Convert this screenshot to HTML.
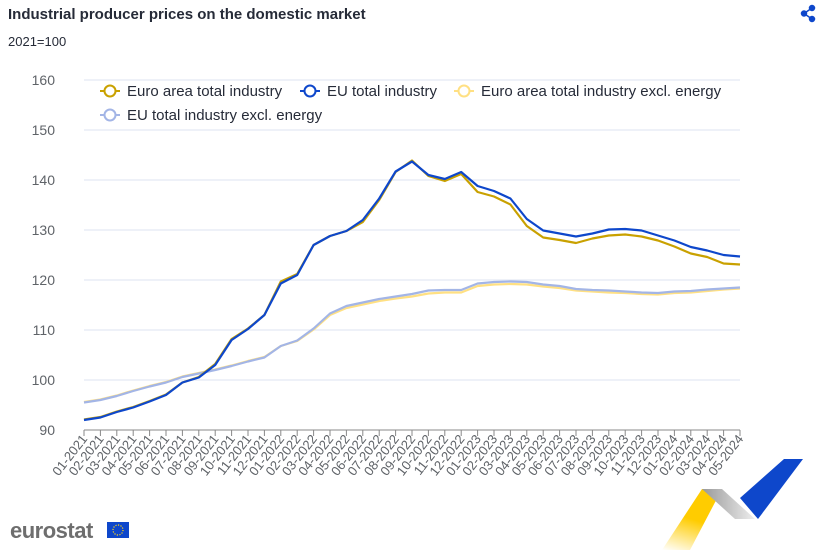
<!DOCTYPE html>
<html><head><meta charset="utf-8"><style>
body{margin:0;background:#fff;font-family:"Liberation Sans",sans-serif;}
#wrap{position:relative;width:823px;height:550px;overflow:hidden;}
</style></head><body>
<div id="wrap">
<svg id="chart" width="823" height="550" xmlns="http://www.w3.org/2000/svg">
<text x="8" y="19" font-size="15" font-weight="bold" fill="#262b38">Industrial producer prices on the domestic market</text>
<text x="8" y="46" font-size="13" fill="#262b38">2021=100</text>
<g fill="#0e47cb" stroke="#0e47cb" stroke-width="1.5">
<circle cx="812" cy="8" r="2.5"/><circle cx="812" cy="19" r="2.5"/><circle cx="804" cy="13.5" r="2.5"/>
<line x1="812" y1="8" x2="804" y2="13.5"/><line x1="812" y1="19" x2="804" y2="13.5"/></g>
<g id="grid"></g><g id="axes"></g><g id="series"></g>
<g id="legend" font-size="15" fill="#262b38"></g>
<g>
<text x="10" y="538" font-size="22" font-weight="bold" fill="#6e6e6e" letter-spacing="-0.5">eurostat</text>
<rect x="107" y="522" width="22" height="16" fill="#0e47cb"/><circle cx="118" cy="530" r="5" fill="none" stroke="#ffd617" stroke-width="1.2" stroke-dasharray="1.2 1.4"/></g>
<g>
<defs><linearGradient id="yg" x1="0" y1="1" x2="0.3" y2="0"><stop offset="0" stop-color="#fff"/><stop offset="0.6" stop-color="#ffcc00"/></linearGradient>
<linearGradient id="gg" x1="0" y1="0" x2="1" y2="0"><stop offset="0" stop-color="#999"/><stop offset="1" stop-color="#eee"/></linearGradient></defs>
<polygon points="662,550 702,489 722,489 690,550" fill="url(#yg)"/>
<polygon points="722,489 702,489 735,519 755,519" fill="url(#gg)"/>
<polygon points="740,498 784,459 803,459 758,519" fill="#0e47cb"/>
</g>
</svg>
</div>
<script>
const categories=["01-2021","02-2021","03-2021","04-2021","05-2021","06-2021","07-2021","08-2021","09-2021","10-2021","11-2021","12-2021","01-2022","02-2022","03-2022","04-2022","05-2022","06-2022","07-2022","08-2022","09-2022","10-2022","11-2022","12-2022","01-2023","02-2023","03-2023","04-2023","05-2023","06-2023","07-2023","08-2023","09-2023","10-2023","11-2023","12-2023","01-2024","02-2024","03-2024","04-2024","05-2024"];
const euroAreaTotal=[92.1,92.6,93.7,94.6,95.8,97.1,99.5,100.6,103.2,108.2,110.3,113,119.7,121.2,127,128.8,129.8,131.6,136,141.6,143.9,140.8,139.8,141.2,137.6,136.7,135.1,130.8,128.5,128,127.4,128.3,128.9,129.1,128.7,127.9,126.7,125.3,124.6,123.3,123.1];
const euTotal=[92,92.5,93.6,94.5,95.7,97,99.5,100.5,103,108,110.2,113,119.3,121,127,128.8,129.8,132,136.3,141.7,143.7,141,140.2,141.6,138.8,137.8,136.3,132.2,129.9,129.3,128.7,129.3,130.1,130.2,129.9,128.9,127.9,126.6,125.9,125,124.7];
const euroAreaExclEnergy=[95.6,96.1,96.9,97.9,98.8,99.6,100.7,101.4,102.1,102.9,103.8,104.6,106.8,107.8,110.1,113,114.4,115.1,115.8,116.3,116.7,117.3,117.5,117.5,118.8,119.1,119.2,119.1,118.7,118.4,117.9,117.7,117.5,117.4,117.2,117.1,117.4,117.5,117.8,118.1,118.3];
const euExclEnergy=[95.5,96,96.8,97.8,98.7,99.5,100.6,101.3,102,102.8,103.7,104.5,106.8,107.9,110.3,113.3,114.8,115.5,116.2,116.7,117.2,117.9,118,118,119.3,119.6,119.7,119.6,119.1,118.8,118.2,118,117.9,117.7,117.5,117.4,117.7,117.8,118.1,118.3,118.5];
const yTicks=[90,100,110,120,130,140,150,160];
const NS="http://www.w3.org/2000/svg";
const X0=84,X1=740,Y0=430,Y1=80;
function xs(i){return X0+(X1-X0)*i/(categories.length-1);}
function ys(v){return Y0-(v-90)/(160-90)*(Y0-Y1);}
function mk(tag,attrs,parent){const e=document.createElementNS(NS,tag);for(const k in attrs)e.setAttribute(k,attrs[k]);parent.appendChild(e);return e;}
const grid=document.getElementById('grid'),axes=document.getElementById('axes'),ser=document.getElementById('series'),leg=document.getElementById('legend');
yTicks.forEach(t=>{
 if(t>90){const l=mk('line',{x1:X0,x2:X1,y1:ys(t),y2:ys(t),stroke:'#dde3f1','stroke-width':1},grid);
 
 }
 const tx=mk('text',{x:55,y:ys(t)+5,'text-anchor':'end','font-size':14,fill:'#5f6368'},axes);tx.textContent=t;
 
 
});
const ax=mk('line',{x1:X0,x2:X1,y1:Y0,y2:Y0,stroke:'#888','stroke-width':1},axes);


categories.forEach((c,i)=>{
 const x=xs(i);
 const tk=mk('line',{x1:x,x2:x,y1:Y0,y2:Y0+6,stroke:'#888'},axes);
 
 
 const tx=mk('text',{x:x+4,y:Y0+9,'text-anchor':'end','font-size':13,fill:'#5f6368',transform:`rotate(-52 ${x+4} ${Y0+9})`},axes);tx.textContent=c;
 
 
});
const series=[
 {name:'Euro area total industry',data:euroAreaTotal,color:'#c9a100',id:'euro-area-total-line'},
 {name:'EU total industry',data:euTotal,color:'#0e47cb',id:'eu-total-line'},
 {name:'Euro area total industry excl. energy',data:euroAreaExclEnergy,color:'#ffe083',id:'euro-area-excl-energy-line'},
 {name:'EU total industry excl. energy',data:euExclEnergy,color:'#a3b5e6',id:'eu-excl-energy-line'}
];
[2,3,0,1].forEach(k=>{const s=series[k];
 const d=s.data.map((v,i)=>(i?'L':'M')+xs(i).toFixed(1)+','+ys(v).toFixed(1)).join('');
 const p=mk('path',{d:d,fill:'none',stroke:s.color,'stroke-width':2.2,'stroke-linejoin':'round'},ser);
 
 
});
const lpos=[[110,91],[310,91],[464,91],[110,115]];
series.forEach((s,k)=>{const [x,y]=lpos[k];
 const g=mk('g',{},leg);
 
 
 mk('line',{x1:x-10,x2:x+10,y1:y,y2:y,stroke:s.color,'stroke-width':2},g);
 mk('circle',{cx:x,cy:y,r:5.5,fill:'#fff',stroke:s.color,'stroke-width':2},g);
 const t=mk('text',{x:x+17,y:y+5},g);t.textContent=s.name;
});
</script>
</body></html>
